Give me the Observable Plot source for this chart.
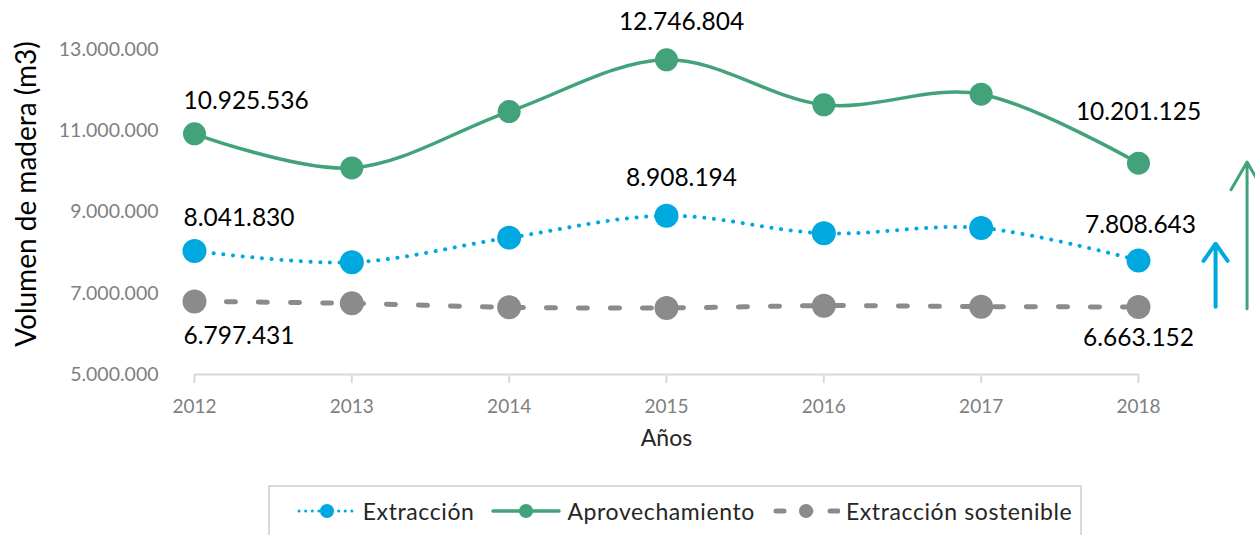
<!DOCTYPE html>
<html>
<head>
<meta charset="utf-8">
<script src="https://cdn.jsdelivr.net/npm/d3@7"></script>
<script src="https://cdn.jsdelivr.net/npm/@observablehq/plot@0.6"></script>
<style>
  html, body { margin: 0; padding: 0; background: #fff; }
  body { width: 1255px; height: 535px; overflow: hidden; font-family: Lato, "Open Sans", sans-serif; }
  .legend {
    position: absolute; left: 268px; top: 485px; width: 814px; height: 60px;
    border: 2px solid #d9d9d9; box-sizing: border-box;
    display: flex; align-items: flex-start; justify-content: center; gap: 17px;
    padding-top: 10px; padding-left: 19px; font-size: 23px; letter-spacing: 0.6px; color: #262626;
  }
  .legend .item { display: flex; align-items: center; gap: 6px; }
  .legend svg { display: block; }
</style>
</head>
<body>
<div id="chart"></div>
<div class="legend" id="legend"></div>
<script>
// ---- data ----
const years = [2012, 2013, 2014, 2015, 2016, 2017, 2018];
const extraccion = [8041830, 7761000, 8369000, 8908194, 8475000, 8608000, 7808643];
const aprovechamiento = [10925536, 10086000, 11473000, 12746804, 11638000, 11899000, 10201125];
const extraccionSostenible = [6797431, 6751000, 6653000, 6638000, 6695000, 6670000, 6663152];
const yTicks = [5000000, 7000000, 9000000, 11000000, 13000000];
const seriesNames = ["Extracción", "Aprovechamiento", "Extracción sostenible"];
const labelYearsExtraccion = [2012, 2015, 2018];
const labelYearsAprovechamiento = [2012, 2015, 2018];
const labelYearsSostenible = [2012, 2018];
// annotation arrows (year position beyond 2018, from value, to value)
const arrowX = [2018.49, 2018.69];
const arrowFrom = [6670000, 6620000];
const arrowTo = [8220000, 10230000];
const yTitle = "Volumen de madera (m3)";
const xTitle = "Años";

// ---- helpers ----
const fmt = d => d3.format(",")(d).replace(/,/g, ".");
const rows = (name, vals) => years.map((year, i) => ({year, value: vals[i], series: name}));
const ext = rows(seriesNames[0], extraccion);
const apr = rows(seriesNames[1], aprovechamiento);
const sos = rows(seriesNames[2], extraccionSostenible);

const BLUE = "#00a8e0", GREEN = "#42a279", GREY = "#8b8b8d";

// label offsets (dx, dy, anchor) by series/year
const off = {
  apr: {2012: [-11, -33, "start"], 2015: [15, -38, "middle"], 2018: [0, -51, "middle"]},
  ext: {2012: [-11, -33, "start"], 2015: [15, -38, "middle"], 2018: [2, -35, "middle"]},
  sos: {2012: [-11, 35, "start"], 2018: [0, 31, "middle"]}
};
function labelMarks(data, key, yearsToLabel) {
  return yearsToLabel.map(yr => {
    const [dx, dy, anchor] = off[key][yr];
    return Plot.text(data.filter(d => d.year === yr), {
      x: "year", y: "value", text: d => fmt(d.value),
      dx, dy, textAnchor: anchor, fontSize: 24.5, fill: "#000"
    });
  });
}

const arrows = arrowX.map((x, i) => ({x, from: arrowFrom[i], to: arrowTo[i]}));

const chart = Plot.plot({
  width: 1255, height: 480,
  marginLeft: 194, marginRight: 117, marginTop: 49, marginBottom: 106,
  x: {type: "linear", domain: [2012, 2018]},
  y: {domain: [5000000, 13000000]},
  style: {fontFamily: "Lato, 'Open Sans', sans-serif", background: "#fff", overflow: "visible"},
  marks: [
    Plot.axisY({ticks: yTicks, tickFormat: fmt, tickSize: 0, tickPadding: 36, fontSize: 19.5, fill: "#7f7f7f", label: null}),
    Plot.axisX({ticks: years, tickFormat: d => String(d), tickSize: 9, tickPadding: 16, stroke: "#d9d9d9", strokeWidth: 2, fill: "#7f7f7f", fontSize: 19, label: null}),
    Plot.ruleY([5000000], {stroke: "#d9d9d9", strokeWidth: 2}),
    Plot.line(sos, {x: "year", y: "value", curve: "cardinal", stroke: GREY, strokeWidth: 5, strokeDasharray: "9 23", strokeLinecap: "round"}),
    Plot.line(ext, {x: "year", y: "value", curve: "cardinal", stroke: BLUE, strokeWidth: 4, strokeDasharray: "0.1 9.6", strokeLinecap: "round"}),
    Plot.line(apr, {x: "year", y: "value", curve: "cardinal", stroke: GREEN, strokeWidth: 3.5}),
    Plot.dot(sos, {x: "year", y: "value", r: 12, fill: GREY}),
    Plot.dot(ext, {x: "year", y: "value", r: 12, fill: BLUE}),
    Plot.dot(apr, {x: "year", y: "value", r: 11.5, fill: GREEN}),
    ...labelMarks(apr, "apr", labelYearsAprovechamiento),
    ...labelMarks(ext, "ext", labelYearsExtraccion),
    ...labelMarks(sos, "sos", labelYearsSostenible),
    Plot.arrow(arrows.slice(0, 1), {x1: "x", x2: "x", y1: "from", y2: "to", stroke: BLUE, strokeWidth: 4, headLength: 14, headAngle: 70}),
    Plot.arrow(arrows.slice(1, 2), {x1: "x", x2: "x", y1: "from", y2: "to", stroke: GREEN, strokeWidth: 3, headLength: 16, headAngle: 60}),
    Plot.text([yTitle], {frameAnchor: "left", textAnchor: "middle", rotate: -90, dx: -167, dy: -18, fontSize: 28, fill: "#000"}),
    Plot.text([xTitle], {frameAnchor: "bottom", dy: 71, fontSize: 23, fill: "#262626"})
  ]
});
document.getElementById("chart").appendChild(chart);

// ---- legend ----
const legendDefs = [
  {name: seriesNames[0], color: BLUE, w: 60, sw: 3, dash: "0.1 6.5", r: 7},
  {name: seriesNames[1], color: GREEN, w: 70, sw: 3.5, dash: null, r: 7},
  {name: seriesNames[2], color: GREY, w: 68, sw: 5, dash: "8 19", r: 7}
];
const legend = document.getElementById("legend");
for (const d of legendDefs) {
  const item = document.createElement("span");
  item.className = "item";
  const dashAttr = d.dash ? `stroke-dasharray="${d.dash}"` : "";
  const x1 = d.dash && d.name === seriesNames[2] ? 4 : 2;
  item.innerHTML = `<svg width="${d.w}" height="20"><line x1="${x1}" x2="${d.w - 2}" y1="10" y2="10" stroke="${d.color}" stroke-width="${d.sw}" ${dashAttr} stroke-linecap="round"/><circle cx="${d.w / 2}" cy="10" r="${d.r}" fill="${d.color}"/></svg><span>${d.name}</span>`;
  legend.appendChild(item);
}
</script>
</body>
</html>
